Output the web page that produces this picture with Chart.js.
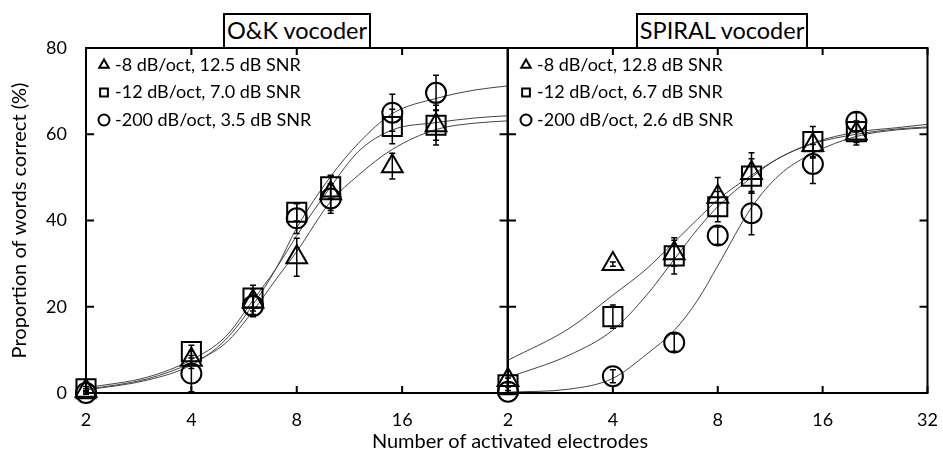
<!DOCTYPE html>
<html>
<head>
<meta charset="utf-8">
<script src="https://cdn.jsdelivr.net/npm/chart.js@4.4.0/dist/chart.umd.min.js"></script>
<style>
  body { margin: 0; background: #fff; font-family: Lato, sans-serif; color: #000; }
  #wrap { position: relative; width: 943px; height: 453px; overflow: hidden; }
  canvas { position: absolute; top: 0; }
  .ptitle { position: absolute; top: 13px; height: 36px; box-sizing: border-box; border: 2px solid #000;
            font-size: 23.5px; line-height: 31px; text-align: center; background: #fff; }
  #xtitle { position: absolute; left: 310px; width: 400px; top: 427px; text-align: center; font-size: 20px; line-height: 26px; }
</style>
</head>
<body>
<div id="wrap">
  <canvas id="ok" width="523" height="453" style="left:0"></canvas>
  <canvas id="spiral" width="473" height="453" style="left:470px"></canvas>
  <div class="ptitle" style="left:223px; width:148px">O&amp;K vocoder</div>
  <div class="ptitle" style="left:636px; width:172px">SPIRAL vocoder</div>
  <div id="xtitle">Number of activated electrodes</div>
</div>
<script>
// measured points: number of electrodes
var nElectrodes = [2, 4, 6, 8, 10, 15, 20];

// O&K vocoder, percent correct and error
var ok8 = [0.5, 7.7, 21.2, 31.5, 46.3, 52.6, 62.1];
var ok8Err = [0.5, 2, 3, 4.4, 4, 3, 3.5];
var ok12 = [1.0, 9.6, 22.0, 41.9, 47.8, 61.8, 62.1];
var ok12Err = [0.5, 1.5, 3, 2, 2.7, 4, 4.6];
var ok200 = [0.0, 4.5, 20.2, 40.5, 45.1, 65.0, 69.6];
var ok200Err = [0.3, 4.2, 2.5, 3.5, 3.4, 4.3, 4.1];

// SPIRAL vocoder
var sp8 = [3.0, 29.9, 32.4, 45.5, 51.0, 57.5, 60.2];
var sp8Err = [0.5, 0.5, 3, 4.5, 4.7, 3, 2.7];
var sp12 = [1.9, 17.7, 31.8, 43.2, 50.3, 58.3, 60.6];
var sp12Err = [0.5, 2.7, 4.2, 3.5, 4, 3.5, 2.5];
var sp200 = [0.3, 3.9, 11.7, 36.5, 41.7, 53.1, 62.9];
var sp200Err = [0.3, 1.5, 2, 2, 5, 4.5, 2.1];

// fitted curves
var curveX = [2, 3, 4, 5, 6, 7, 8, 10, 12, 15, 20, 26, 32];
var okFit8 = [0.8, 3.3, 7.0, 11.5, 19.0, 26.5, 32.8, 44.4, 50.5, 56.5, 61.1, 62.6, 63.1];
var okFit12 = [1.2, 3.7, 7.7, 13.0, 21.5, 29.0, 36.5, 47.8, 56.0, 61.0, 62.7, 63.8, 64.3];
var okFit200 = [0.7, 3.0, 6.5, 12.3, 20.5, 29.0, 38.3, 50.2, 57.9, 64.8, 68.3, 70.3, 71.2];
var spFit8 = [7.6, 15.0, 22.7, 28.8, 35.0, 40.3, 44.8, 50.5, 54.5, 58.0, 60.5, 61.5, 62.3];
var spFit12 = [3.6, 8.8, 14.6, 22.7, 31.0, 38.0, 43.2, 50.0, 54.5, 57.8, 60.0, 61.2, 61.7];
var spFit200 = [0.2, 0.9, 3.4, 9.0, 14.5, 21.5, 29.5, 43.0, 50.5, 55.6, 59.5, 61.0, 61.5];

var okTicks = [2, 4, 8, 16];
var spTicks = [2, 4, 8, 16, 32];
var yTicks = [0, 20, 40, 60, 80];

var okLegend = ['-8 dB/oct, 12.5 dB SNR', '-12 dB/oct, 7.0 dB SNR', '-200 dB/oct, 3.5 dB SNR'];
var spLegend = ['-8 dB/oct, 12.8 dB SNR', '-12 dB/oct, 6.7 dB SNR', '-200 dB/oct, 2.6 dB SNR'];

var styles = ['triangle', 'rect', 'circle'];
var radii = [12, 13.5, 10];

function pts(xs, ys) {
  return xs.map(function(x, i) { return {x: x, y: ys[i]}; });
}

function pointSet(ys, err, k) {
  return {
    type: 'scatter', data: pts(nElectrodes, ys), err: err,
    pointStyle: styles[k], pointRadius: radii[k], borderWidth: 2,
    borderColor: '#000', pointBackgroundColor: 'rgba(0,0,0,0)', backgroundColor: 'rgba(0,0,0,0)',
    clip: false, order: 1
  };
}

function curveSet(ys) {
  return {
    type: 'line', data: pts(curveX, ys), borderColor: '#444', borderWidth: 1,
    pointRadius: 0, cubicInterpolationMode: 'monotone', fill: false, order: 2
  };
}

// frame with inward ticks
var framePlugin = {
  id: 'frame',
  afterDraw: function(chart) {
    var ctx = chart.ctx, a = chart.chartArea, sx = chart.scales.x, sy = chart.scales.y;
    ctx.save();
    ctx.strokeStyle = '#000';
    ctx.lineWidth = 2;
    ctx.strokeRect(a.left, a.top, a.right - a.left, a.bottom - a.top);
    ctx.beginPath();
    chart.options.plugins.frame.xTicks.forEach(function(v) {
      var px = sx.getPixelForValue(v);
      ctx.moveTo(px, a.bottom); ctx.lineTo(px, a.bottom - 7);
      ctx.moveTo(px, a.top); ctx.lineTo(px, a.top + 7);
    });
    yTicks.forEach(function(v) {
      var py = sy.getPixelForValue(v);
      ctx.moveTo(a.left, py); ctx.lineTo(a.left + 8, py);
      ctx.moveTo(a.right, py); ctx.lineTo(a.right - 8, py);
    });
    ctx.stroke();
    ctx.restore();
  }
};

// vertical error bars and the legend in the corner
var errPlugin = {
  id: 'errbars',
  afterDatasetsDraw: function(chart) {
    var ctx = chart.ctx, sx = chart.scales.x, sy = chart.scales.y, a = chart.chartArea;
    ctx.save();
    ctx.strokeStyle = '#000';
    ctx.lineWidth = 1.5;
    chart.data.datasets.forEach(function(ds) {
      if (!ds.err) return;
      ds.data.forEach(function(p, i) {
        var px = sx.getPixelForValue(p.x);
        var y1 = sy.getPixelForValue(p.y + ds.err[i]);
        var y2 = sy.getPixelForValue(p.y - ds.err[i]);
        ctx.beginPath();
        ctx.moveTo(px, y1); ctx.lineTo(px, y2);
        ctx.moveTo(px - 3, y1); ctx.lineTo(px + 3, y1);
        ctx.moveTo(px - 3, y2); ctx.lineTo(px + 3, y2);
        ctx.stroke();
      });
    });

    var labels = chart.options.plugins.errbars.legend;
    ctx.fillStyle = 'rgba(0,0,0,0)';
    ctx.lineWidth = 2;
    labels.forEach(function(txt, i) {
      var y = a.top + 17 + i * 27.5;
      Chart.helpers.drawPoint(ctx, {pointStyle: styles[i], radius: 5.5, borderWidth: 2}, a.left + 18, y);
    });
    ctx.fillStyle = '#000';
    ctx.font = '18px Lato';
    ctx.textBaseline = 'middle';
    labels.forEach(function(txt, i) {
      ctx.fillText(txt, a.left + 29, a.top + 17 + i * 27.5);
    });
    ctx.restore();
  }
};

var tickFont = {family: 'Lato', size: 18};

function makeChart(id, sets, xt, legend, left) {
  return new Chart(id, {
    data: {datasets: sets},
    options: {
      responsive: false, animation: false,
      layout: {padding: left ? {top: 48, right: 7, left: 0, bottom: 0} : {top: 48, right: 13, left: 38, bottom: 0}},
      plugins: {legend: {display: false}, tooltip: {enabled: false},
                frame: {xTicks: xt}, errbars: {legend: legend}},
      scales: {
        x: {
          type: 'logarithmic', min: 2, max: 32,
          afterBuildTicks: function(s) { s.ticks = xt.map(function(v) { return {value: v}; }); },
          afterFit: function(s) { s.height = 60; s.paddingLeft = 0; s.paddingRight = 0; },
          grid: {display: false, drawTicks: false}, border: {display: false},
          ticks: {font: tickFont, color: '#000', padding: 16, autoSkip: false, maxRotation: 0,
                  callback: function(v) { return String(v); }}
        },
        y: {
          display: left, min: 0, max: 80,
          afterBuildTicks: function(s) { s.ticks = yTicks.map(function(v) { return {value: v}; }); },
          afterFit: function(s) { s.width = left ? 86 : 0; s.paddingTop = 0; s.paddingBottom = 0; },
          grid: {display: false, drawTicks: false}, border: {display: false},
          ticks: {font: tickFont, color: '#000', padding: 19},
          title: {display: true, text: 'Proportion of words correct (%)', color: '#000',
                  font: {family: 'Lato', size: 20}, padding: {top: 8, bottom: 0}}
        }
      }
    },
    plugins: [framePlugin, errPlugin]
  });
}

makeChart('ok', [
  pointSet(ok8, ok8Err, 0), pointSet(ok12, ok12Err, 1), pointSet(ok200, ok200Err, 2),
  curveSet(okFit8), curveSet(okFit12), curveSet(okFit200)
], okTicks, okLegend, true);

makeChart('spiral', [
  pointSet(sp8, sp8Err, 0), pointSet(sp12, sp12Err, 1), pointSet(sp200, sp200Err, 2),
  curveSet(spFit8), curveSet(spFit12), curveSet(spFit200)
], spTicks, spLegend, false);
</script>
</body>
</html>
